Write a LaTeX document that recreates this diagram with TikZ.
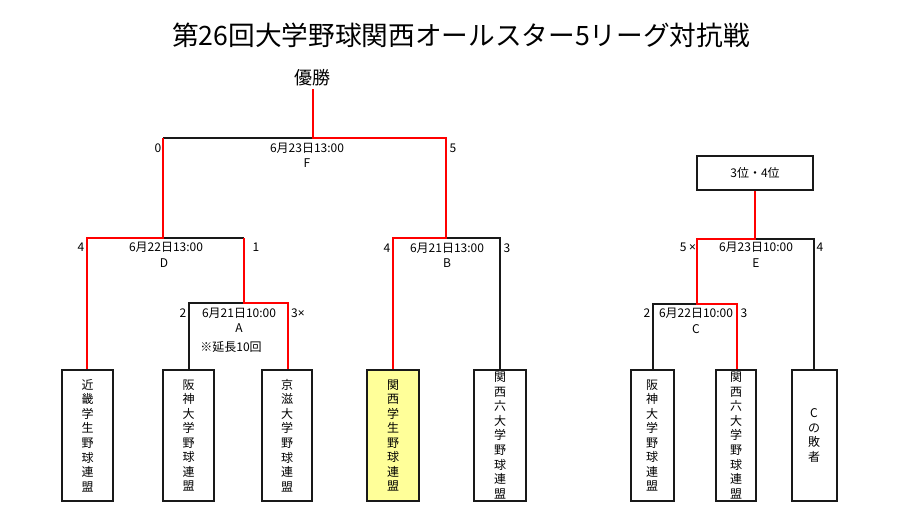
\documentclass[tikz,border=0pt]{standalone}
\usepackage{fontspec}
\setmainfont{Noto Sans CJK JP}
\newfontfamily\latfont{Noto Sans}
\definecolor{winred}{RGB}{255,0,0}
\definecolor{boxyellow}{RGB}{255,255,153}
\begin{document}
\begin{tikzpicture}[x=0.75pt,y=-0.75pt,
  lbl/.style={inner sep=0pt,font=\fontsize{9}{10}\selectfont},
  team/.style={draw=black!90,line width=1.5pt,inner sep=0pt,minimum height=131*0.75pt,
     align=center,font=\fontsize{9}{10.9}\selectfont,fill=white},
  lose/.style={draw=black!90,line width=1.5pt},
  win/.style={draw=winred,line width=1.5pt}]
\useasboundingbox (0,0) rectangle (900,518);
% title
\node[inner sep=0pt,font=\fontsize{20}{22}\selectfont] (title) at (461,35) {第26回大学野球関西オールスター5リーグ対抗戦};
\node[inner sep=0pt,font=\fontsize{13.5}{15}\selectfont] (champ) at (312,78) {優勝};
\coordinate (champb) at (313,89);
% 3rd place box
\node[draw=black!90,line width=1.5pt,minimum width=116*0.75pt,minimum height=34*0.75pt,inner sep=0pt,
  font=\fontsize{9}{10}\selectfont] (third) at (755,172.5) {3位・4位};
% team boxes
\node[team,minimum width=51*0.75pt] (t1) at (87.5,435.5) {近\\畿\\学\\生\\野\\球\\連\\盟};
\node[team,minimum width=51*0.75pt] (t2) at (188.5,435.5) {阪\\神\\大\\学\\野\\球\\連\\盟};
\node[team,minimum width=50*0.75pt] (t3) at (287,435.5) {京\\滋\\大\\学\\野\\球\\連\\盟};
\node[team,minimum width=52*0.75pt,fill=boxyellow] (t4) at (393,435.5) {関\\西\\学\\生\\野\\球\\連\\盟};
\node[team,minimum width=52*0.75pt] (t5) at (500,435.5) {関\\西\\六\\大\\学\\野\\球\\連\\盟};
\node[team,minimum width=43*0.75pt] (t6) at (652,435.5) {阪\\神\\大\\学\\野\\球\\連\\盟};
\node[team,minimum width=40*0.75pt] (t7) at (736,435.5) {関\\西\\六\\大\\学\\野\\球\\連\\盟};
\node[team,minimum width=45*0.75pt] (t8) at (814,435.5) {C\\の\\敗\\者};
% bracket corners
\coordinate (Al) at (189,303); \coordinate (Am) at (244,303); \coordinate (Ar) at (288,303);
\coordinate (Dl) at (87,238);  \coordinate (Dm) at (163,238); \coordinate (Dr) at (244,238);
\coordinate (Fl) at (163,138); \coordinate (Fm) at (313,138); \coordinate (Fr) at (446,138);
\coordinate (Bl) at (393,238); \coordinate (Bm) at (446,238); \coordinate (Br) at (500,238);
\coordinate (Cl) at (653,304); \coordinate (Cm) at (697,304); \coordinate (Cr) at (737,304);
\coordinate (El) at (697,239); \coordinate (Em) at (755,239); \coordinate (Er) at (814,239);
% losing lines
\draw[lose] (t2.north -| Al) -- (Al) -- (Am);
\draw[lose] (Dr) -- (Dm);
\draw[lose] (Fl) -- (Fm);
\draw[lose] (t5.north -| Br) -- (Br) -- (Bm);
\draw[lose] (t6.north -| Cl) -- (Cl) -- (Cm);
\draw[lose] (t8.north -| Er) -- (Er) -- (Em);
% winning lines
\draw[win] (t3.north -| Ar) -- (Ar) -- (Am) -- (Dr);
\draw[win] (t1.north -| Dl) -- (Dl) -- (Dm) -- (Fl);
\draw[win] (t4.north -| Bl) -- (Bl) -- (Bm) -- (Fr) -- (Fm) -- (champb);
\draw[win] (t7.north -| Cr) -- (Cr) -- (Cm) -- (El) -- (Em) -- (third.south);
% labels F
\node[lbl] (f0) at (158,148) {0};
\node[lbl] (fd) at (307,148) {6月23日13:00};
\node[lbl] (fn) at (307,163) {F};
\node[lbl] (f5) at (453,148) {5};
% labels D
\node[lbl] (d4) at (81,247) {4};
\node[lbl] (dd) at (166,247) {6月22日13:00};
\node[lbl] (dn) at (164,263) {D};
\node[lbl] (d1) at (256,247) {1};
% labels A
\node[lbl] (a2) at (183,313) {2};
\node[lbl] (ad) at (239,313) {6月21日10:00};
\node[lbl] (an) at (239,328) {A};
\node[lbl] (ax) at (231,347) {※延長10回};
\node[lbl] (a3) at (298,313) {3{\latfont ×}};
% labels B
\node[lbl] (b4) at (387,248) {4};
\node[lbl] (bd) at (447,248) {6月21日13:00};
\node[lbl] (bn) at (447,263) {B};
\node[lbl] (b3) at (507,248) {3};
% labels E
\node[lbl] (e5) at (688,247) {5 {\latfont ×}};
\node[lbl] (ed) at (756,247) {6月23日10:00};
\node[lbl] (en) at (756,263) {E};
\node[lbl] (e4) at (820,247) {4};
% labels C
\node[lbl] (c2) at (647,313) {2};
\node[lbl] (cd) at (696,313) {6月22日10:00};
\node[lbl] (cn) at (696,329) {C};
\node[lbl] (c3) at (744,313) {3};
\end{tikzpicture}
\end{document}
